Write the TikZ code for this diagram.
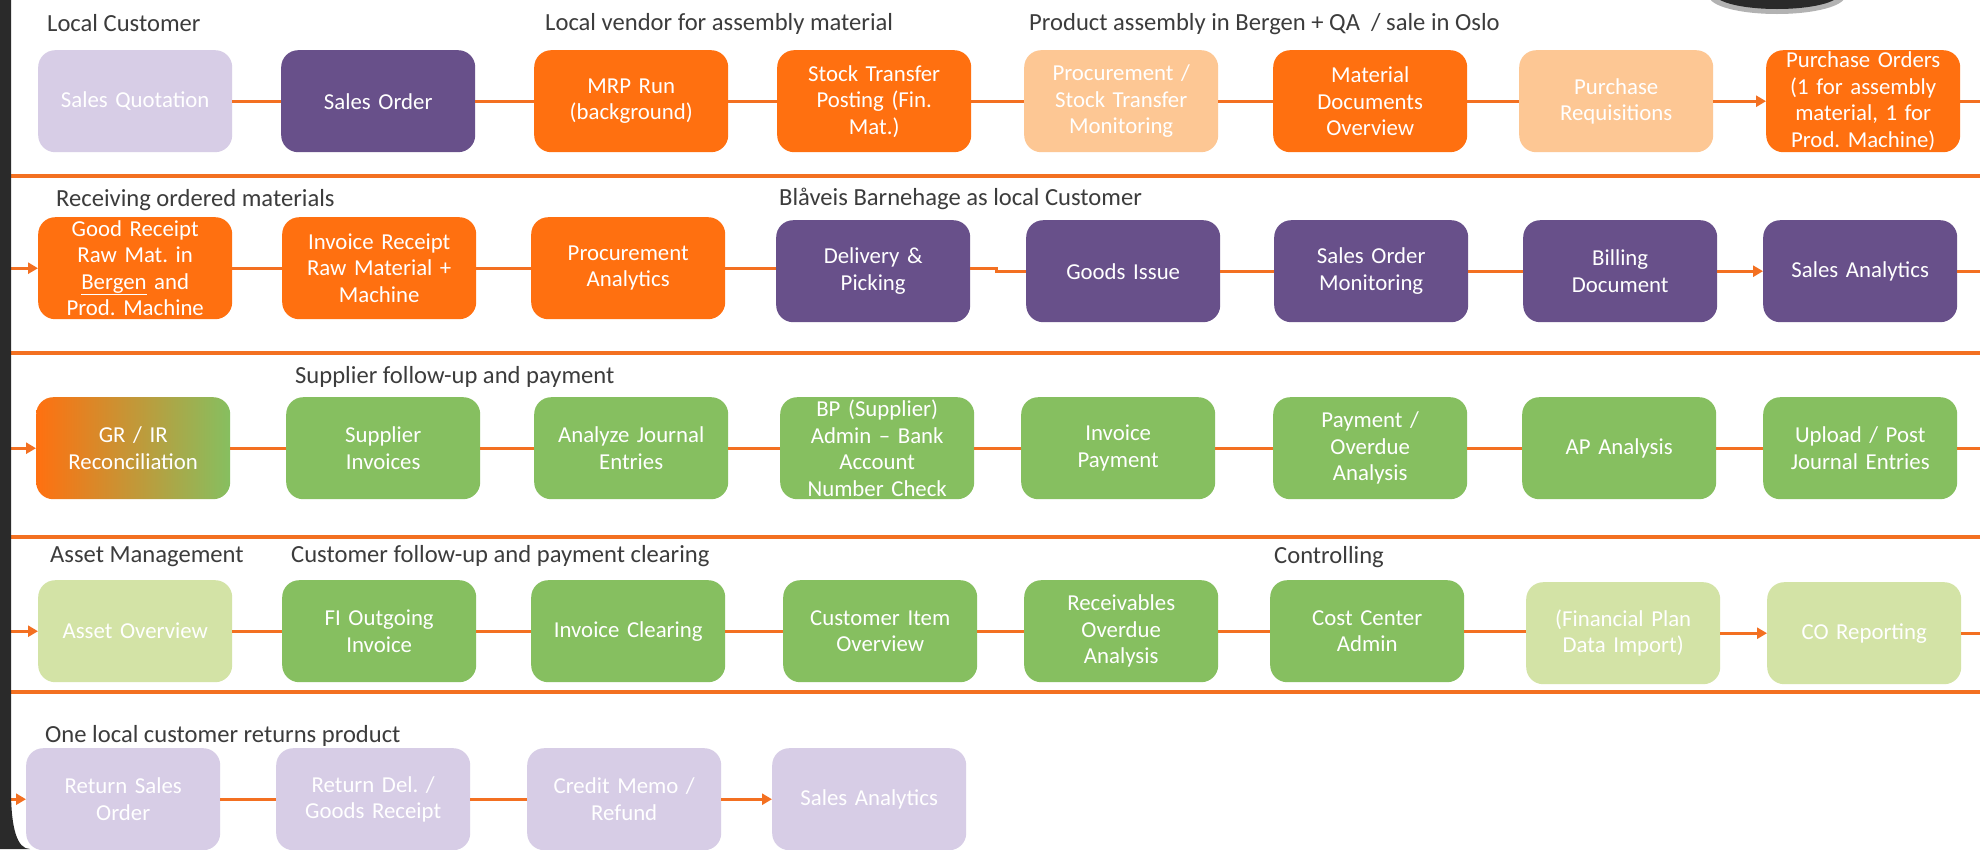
\documentclass[tikz,border=0pt]{standalone}
\usepackage{fontspec}
\setmainfont{Carlito}
\usetikzlibrary{arrows.meta}
\definecolor{lpur}{HTML}{D7CDE6}
\definecolor{dpur}{HTML}{68508A}
\definecolor{org}{HTML}{FF7010}
\definecolor{lorg}{HTML}{FDC794}
\definecolor{grn}{HTML}{86BF60}
\definecolor{lgrn}{HTML}{D3E3A6}
\definecolor{lnorg}{HTML}{F37021}
\definecolor{lbl}{HTML}{3C3C3C}
\definecolor{framec}{HTML}{2A2A2A}
\frenchspacing
\begin{document}
\begin{tikzpicture}[x=1pt,y=-1pt,
 bx/.style={rounded corners=17pt, anchor=north west, minimum width=194pt, minimum height=102pt, text width=188pt, align=center, inner sep=0pt, text=white, font=\fontsize{22.8}{26.5}\selectfont},
 lab/.style={anchor=base west, inner sep=0pt, text=lbl, font=\fontsize{24.6}{28}\selectfont},
 conn/.style={draw=lnorg, line width=3pt},
 arr/.style={conn, -{Triangle[length=10pt,width=11pt]}},
 sep/.style={draw=lnorg, line width=4pt}]
\useasboundingbox (0,0) rectangle (1980,849);
\fill[white] (0,0) rectangle (1980,849);

% separators
\draw[sep] (11,176) -- (1982,176);
\draw[sep] (11,353) -- (1982,353);
\draw[sep] (11,537) -- (1982,537);
\draw[sep] (11,692) -- (1982,692);

% labels
\node[lab] (l1a) at (47,31) {Local Customer};
\node[lab] (l1b) at (545,30) {Local vendor for assembly material};
\node[lab] (l1c) at (1029,30) {Product assembly in Bergen + QA\ \ / sale in Oslo};
\node[lab] (l2a) at (56,206) {Receiving ordered materials};
\node[lab] (l2b) at (779,205) {Blåveis Barnehage as local Customer};
\node[lab] (l3a) at (295,383) {Supplier follow-up and payment};
\node[lab] (l4a) at (50,562) {Asset Management};
\node[lab] (l4b) at (291,562) {Customer follow-up and payment clearing};
\node[lab] (l4c) at (1274,563) {Controlling};
\node[lab] (l5a) at (45,742) {One local customer returns product};

% row 1
\node[bx, fill=lpur] (sq) at (38,50) {Sales Quotation};
\node[bx, fill=dpur] (so) at (281,50) {Sales Order};
\node[bx, fill=org] (mrp) at (534,50) {MRP Run\\(background)};
\node[bx, fill=org] (stp) at (777,50) {Stock Transfer\\Posting (Fin.\\Mat.)};
\node[bx, fill=lorg] (pstm) at (1024,50) {Procurement /\\Stock Transfer\\Monitoring};
\node[bx, fill=org] (mdo) at (1273,50) {Material\\Documents\\Overview};
\node[bx, fill=lorg] (pr) at (1519,50) {Purchase\\Requisitions};
\node[bx, fill=org] (po) at (1766,50) {Purchase Orders\\(1 for assembly\\material, 1 for\\Prod. Machine)};

% row 2
\node[bx, fill=org] (gr) at (38,217) {Good Receipt\\Raw Mat. in\\\underline{Bergen} and\\Prod. Machine};
\node[bx, fill=org] (ir) at (282,217) {Invoice Receipt\\Raw Material +\\Machine};
\node[bx, fill=org] (pa) at (531,217) {Procurement\\Analytics};
\node[bx, fill=dpur] (dp) at (776,220) {Delivery \&\\Picking};
\node[bx, fill=dpur] (gi) at (1026,220) {Goods Issue};
\node[bx, fill=dpur] (som) at (1274,220) {Sales Order\\Monitoring};
\node[bx, fill=dpur] (bd) at (1523,220) {Billing\\Document};
\node[bx, fill=dpur] (sa) at (1763,220) {Sales Analytics};

% row 3
\node[bx, left color=org, right color=grn] (grir) at (36,397) {GR / IR\\Reconciliation};
\node[bx, fill=grn] (si) at (286,397) {Supplier\\Invoices};
\node[bx, fill=grn] (aje) at (534,397) {Analyze Journal\\Entries};
\node[bx, fill=grn] (bp) at (780,397) {BP (Supplier)\\Admin – Bank\\Account\\Number Check};
\node[bx, fill=grn] (ip) at (1021,397) {Invoice\\Payment};
\node[bx, fill=grn] (poa) at (1273,397) {Payment /\\Overdue\\Analysis};
\node[bx, fill=grn] (ap) at (1522,397) {AP Analysis};
\node[bx, fill=grn] (upj) at (1763,397) {Upload / Post\\Journal Entries};

% row 4
\node[bx, fill=lgrn] (ao) at (38,580) {Asset Overview};
\node[bx, fill=grn] (fio) at (282,580) {FI Outgoing\\Invoice};
\node[bx, fill=grn] (ic) at (531,580) {Invoice Clearing};
\node[bx, fill=grn] (cio) at (783,580) {Customer Item\\Overview};
\node[bx, fill=grn] (roa) at (1024,580) {Receivables\\Overdue\\Analysis};
\node[bx, fill=grn] (cca) at (1270,580) {Cost Center\\Admin};
\node[bx, fill=lgrn] (fpd) at (1526,582) {(Financial Plan\\Data Import)};
\node[bx, fill=lgrn] (cor) at (1767,582) {CO Reporting};

% row 5
\node[bx, fill=lpur] (rso) at (26,748) {Return Sales\\Order};
\node[bx, fill=lpur] (rdg) at (276,748) {Return Del. /\\Goods Receipt};
\node[bx, fill=lpur] (cmr) at (527,748) {Credit Memo /\\Refund};
\node[bx, fill=lpur] (sa2) at (772,748) {Sales Analytics};

\coordinate (L) at (11,0);
\coordinate (R) at (1982,0);
\coordinate (jog) at (996,271);

% row 1 connectors
\draw[conn] (sq.east) -- (sq.east -| so.west);
\draw[conn] (so.east) -- (so.east -| mrp.west);
\draw[conn] (mrp.east) -- (mrp.east -| stp.west);
\draw[conn] (stp.east) -- (stp.east -| pstm.west);
\draw[conn] (pstm.east) -- (pstm.east -| mdo.west);
\draw[conn] (mdo.east) -- (mdo.east -| pr.west);
\draw[arr] (pr.east) -- (pr.east -| po.west);
\draw[conn] (po.east) -- (po.east -| R);

% row 2 connectors
\draw[arr] (L |- gr.west) -- (gr.west);
\draw[conn] (gr.east) -- (gr.east -| ir.west);
\draw[conn] (ir.east) -- (ir.east -| pa.west);
\draw[conn] (pa.east) -- (pa.east -| dp.west);
\draw[conn] (dp.east |- pa.east) -- (jog |- pa.east) -- (jog) -- (jog -| gi.west);
\draw[conn] (gi.east) -- (gi.east -| som.west);
\draw[conn] (som.east) -- (som.east -| bd.west);
\draw[arr] (bd.east) -- (bd.east -| sa.west);
\draw[conn] (sa.east) -- (sa.east -| R);

% row 3 connectors
\draw[arr] (L |- grir.west) -- (grir.west);
\draw[conn] (grir.east) -- (grir.east -| si.west);
\draw[conn] (si.east) -- (si.east -| aje.west);
\draw[conn] (aje.east) -- (aje.east -| bp.west);
\draw[conn] (bp.east) -- (bp.east -| ip.west);
\draw[conn] (ip.east) -- (ip.east -| poa.west);
\draw[conn] (poa.east) -- (poa.east -| ap.west);
\draw[conn] (ap.east) -- (ap.east -| upj.west);
\draw[conn] (upj.east) -- (upj.east -| R);

% row 4 connectors
\draw[arr] (L |- ao.west) -- (ao.west);
\draw[conn] (ao.east) -- (ao.east -| fio.west);
\draw[conn] (fio.east) -- (fio.east -| ic.west);
\draw[conn] (ic.east) -- (ic.east -| cio.west);
\draw[conn] (cio.east) -- (cio.east -| roa.west);
\draw[conn] (roa.east) -- (roa.east -| cca.west);
\draw[conn] (cca.east) -- (cca.east -| fpd.west);
\draw[arr] (fpd.east) -- (fpd.east -| cor.west);
\draw[conn] (cor.east) -- (cor.east -| R);

% row 5 connectors
\draw[arr] (L |- rso.west) -- (rso.west);
\draw[conn] (rso.east) -- (rso.east -| rdg.west);
\draw[conn] (rdg.east) -- (rdg.east -| cmr.west);
\draw[arr] (cmr.east) -- (cmr.east -| sa2.west);

% frame
\fill[framec] (0,0) -- (11,0) -- (11,790) .. controls (11,828) and (17,849) .. (30,849) -- (0,849) -- cycle;
\fill[gray!60] (1777,-4) ellipse [x radius=68pt, y radius=18pt];
\fill[framec] (1777,-6) ellipse [x radius=62pt, y radius=15pt];
\end{tikzpicture}
\end{document}
